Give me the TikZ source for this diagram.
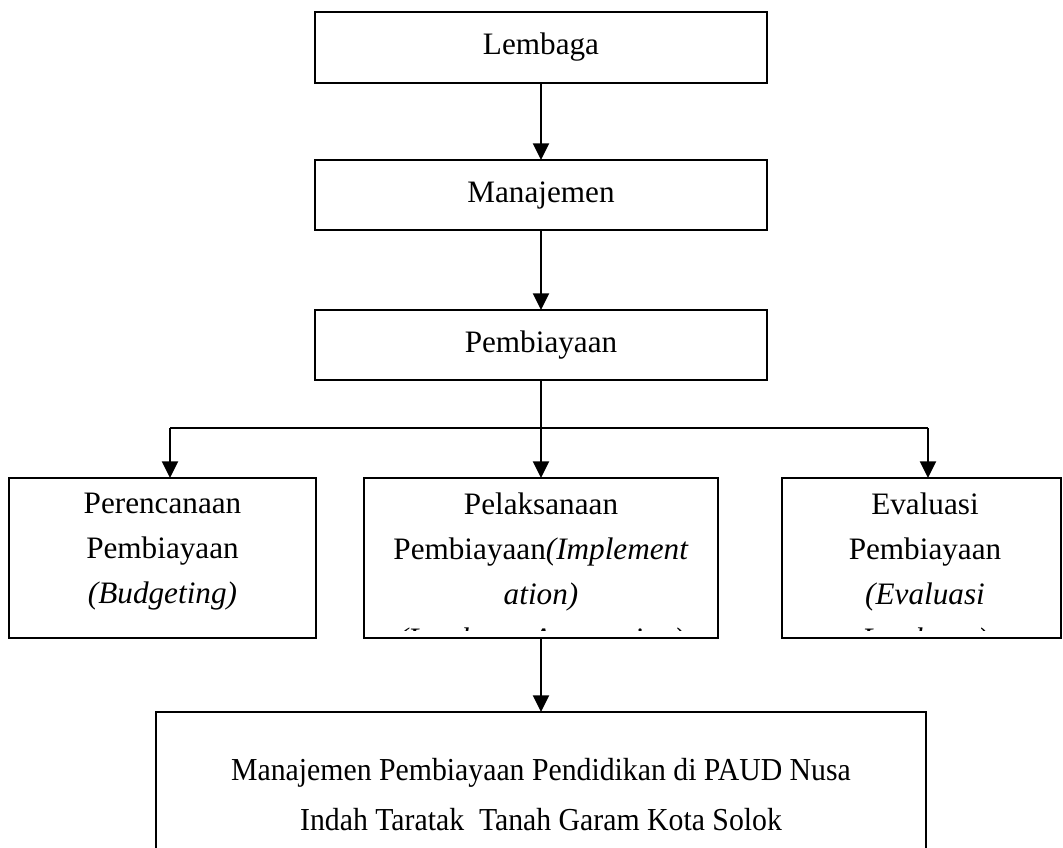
\documentclass[tikz,border=0pt]{standalone}
\usepackage{fontspec}
\setmainfont{Liberation Serif}
\usetikzlibrary{arrows.meta}
\begin{document}
\begin{tikzpicture}[x=0.75pt,y=-0.75pt,
  boxst/.style={draw=black,line width=1.1pt,inner sep=0pt,outer sep=0pt,rectangle},
  txt/.style={inner sep=0pt,align=center,font=\fontsize{23.4pt}{33.75pt}\selectfont},
  arr/.style={line width=1.5pt,-{Triangle[width=12pt,length=12.5pt]}},
  lin/.style={line width=1.5pt}]
\clip (0,0) rectangle (1063,848);
\fill[white] (0,0) rectangle (1063,848);
% top chain
\node[boxst,txt,minimum width=452*0.75pt,minimum height=71*0.75pt] (lem) at (541,47.5) {Lembaga};
\node[boxst,txt,minimum width=452*0.75pt,minimum height=70*0.75pt] (man) at (541,195) {Manajemen};
\node[boxst,txt,minimum width=452*0.75pt,minimum height=70*0.75pt] (pem) at (541,345) {Pembiayaan};
% three boxes
\node[boxst,minimum width=307*0.75pt,minimum height=160*0.75pt] (per) at (162.5,558) {};
\node[boxst,minimum width=354*0.75pt,minimum height=160*0.75pt] (pel) at (541,558) {};
\node[boxst,minimum width=279*0.75pt,minimum height=160*0.75pt] (eva) at (921.5,558) {};
\node[txt] (pertxt) at (162.5,552) {Perencanaan\\Pembiayaan\\\textit{(Budgeting)}};
\begin{scope}
  \clip (364,478) rectangle (718,630);
  \node[txt] (peltxt) at (541,574.5) {Pelaksanaan\\Pembiayaan\textit{(Implement}\\\textit{ation)}\\\textit{(Lembaga Accounting)}};
\end{scope}
\begin{scope}
  \clip (782,478) rectangle (1061,630);
  \node[txt] (evatxt) at (925,574.5) {Evaluasi\\Pembiayaan\\\textit{(Evaluasi}\\\textit{Lembaga)}};
\end{scope}
% bottom box
\node[boxst,minimum width=770*0.75pt,minimum height=166*0.75pt,
  font=\fontsize{24pt}{37.5pt}\selectfont,align=center] (bot) at (541,795)
  {\scalebox{0.93}[1]{Manajemen Pembiayaan Pendidikan di PAUD Nusa}\\\scalebox{0.93}[1]{Indah Taratak\ \ Tanah Garam Kota Solok}};
% connectors
\coordinate (hl) at (170,428);
\coordinate (hr) at (928,428);
\draw[arr] (lem.south) -- (man.north);
\draw[arr] (man.south) -- (pem.north);
\draw[arr] (pem.south) -- (pel.north);
\draw[lin] (hl) -- (hr);
\draw[arr] (hl) -- (hl |- per.north);
\draw[arr] (hr) -- (hr |- eva.north);
\draw[arr] (pel.south) -- (bot.north);
\end{tikzpicture}
\end{document}
